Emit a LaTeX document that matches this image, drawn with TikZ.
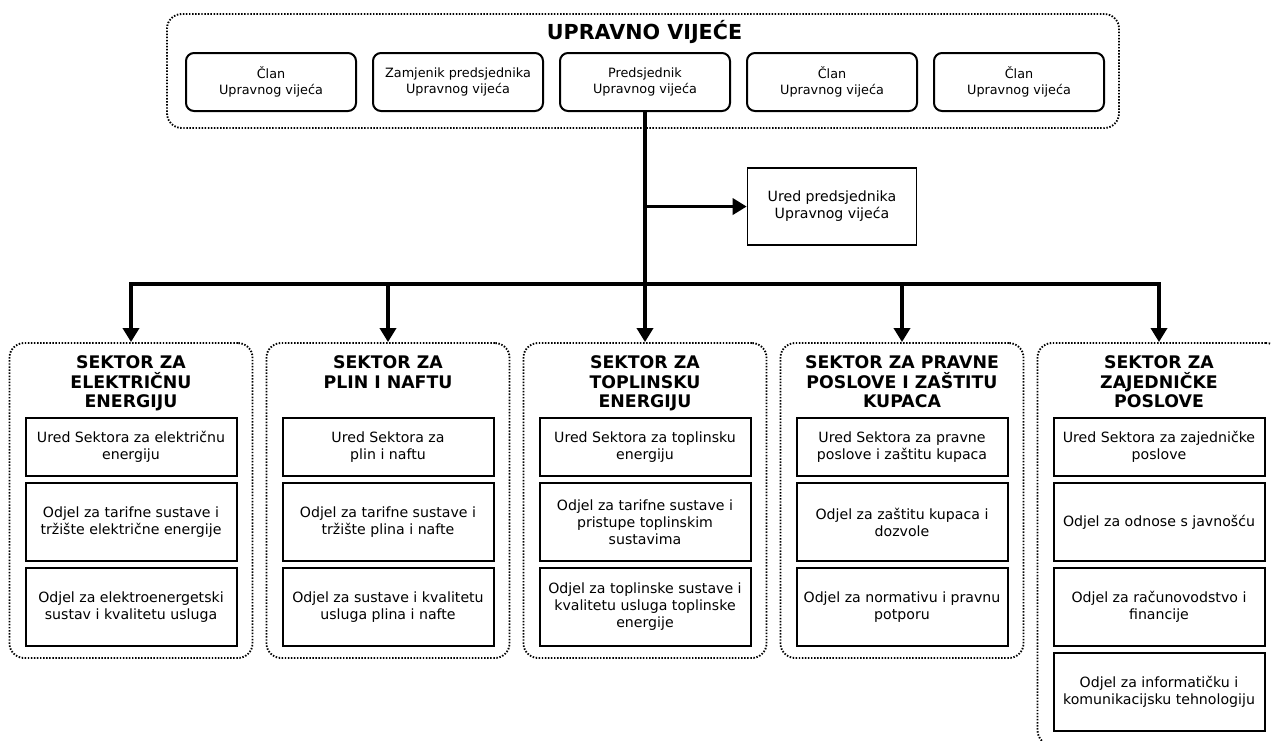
\documentclass[tikz,border=0pt]{standalone}
\usepackage{fontspec}
\setmainfont{DejaVu Sans}
\usepackage{tikz}
\usetikzlibrary{shapes, arrows.meta}
\usetikzlibrary{positioning}
\tikzstyle{member} = [rectangle, rounded corners = 6, minimum width = 127.5,
  minimum height = 43.5, draw = black, line width = 1.5pt, align = center,
  inner sep = 0, font = \fontsize{9.6}{12}\selectfont]
\tikzstyle{office} = [
  rectangle,
  minimum width = 126.75, minimum height = 57.75,
  draw = black, line width = 1.2pt, align = center,
  inner sep = 0, font = \fontsize{10.6}{12.75}\selectfont
]
\tikzstyle{unit} = [
  rectangle,
  minimum width = 158.25, minimum height = 58.5,
  draw = black, line width = 1.5pt, align = center,
  inner sep = 0, font = \fontsize{10.6}{12.75}\selectfont
]
\tikzstyle{short} = [minimum height = 43.5]
\tikzstyle{group} = [rectangle, rounded corners = 11, draw = black,
  line width = 1.4pt, dash pattern = on 1.1pt off 1.2pt]
\tikzstyle{title} = [align = center, inner sep = 0,
  font = \fontsize{13}{14.75}\selectfont\bfseries]
\tikzstyle{bus} = [line width = 2.6pt]
\tikzstyle{link} = [line width = 2.6pt, -{Triangle[width = 12pt, length = 10.5pt]}]

\begin{document}
\begin{tikzpicture}[node distance = 0, x = 0.75pt, y = -0.75pt]
      \useasboundingbox (0, 0) rectangle (1271, 740);
      % board
      \node [group, minimum width = 714, minimum height = 85.5] (board) at (643, 71) {};
      \node [title, font = \fontsize{15.5}{18}\selectfont\bfseries] (board-title) at (644.5, 32) {UPRAVNO VIJEĆE};
      \node [member] (member-1) at (271, 82) {Član\\Upravnog vijeća};
      \node [member, right of = member-1, xshift = 140.25] (member-2) {Zamjenik predsjednika\\Upravnog vijeća};
      \node [member, right of = member-2, xshift = 140.25] (member-3) {Predsjednik\\Upravnog vijeća};
      \node [member, right of = member-3, xshift = 140.25] (member-4) {Član\\Upravnog vijeća};
      \node [member, right of = member-4, xshift = 140.25] (member-5) {Član\\Upravnog vijeća};
      \node [office, below of = member-4, yshift = -93.4] (office) {Ured predsjednika\\Upravnog vijeća};

      % sector 1
      \node [group, minimum width = 182.25, minimum height = 236.25] (sector-1) at (131, 500.5) {};
      \node [title, anchor = north, yshift = -10] (title-1) at (sector-1.north) {SEKTOR ZA\\ELEKTRIČNU\\ENERGIJU};
      \node [unit, short, yshift = -78.75] (unit-1-a) at (sector-1.north) {Ured Sektora za električnu\\energiju};
      \node [unit, below of = unit-1-a, yshift = -56.25] (unit-1-b) {Odjel za tarifne sustave i\\tržište električne energije};
      \node [unit, below of = unit-1-b, yshift = -63.75] (unit-1-c) {Odjel za elektroenergetski\\sustav i kvalitetu usluga};
      % sector 2
      \node [group, minimum width = 182.25, minimum height = 236.25, right of = sector-1, xshift = 192.75] (sector-2) {};
      \node [title, anchor = north, yshift = -10] (title-2) at (sector-2.north) {SEKTOR ZA\\PLIN I NAFTU};
      \node [unit, short, yshift = -78.75] (unit-2-a) at (sector-2.north) {Ured Sektora za\\plin i naftu};
      \node [unit, below of = unit-2-a, yshift = -56.25] (unit-2-b) {Odjel za tarifne sustave i\\tržište plina i nafte};
      \node [unit, below of = unit-2-b, yshift = -63.75] (unit-2-c) {Odjel za sustave i kvalitetu\\usluga plina i nafte};
      % sector 3
      \node [group, minimum width = 182.25, minimum height = 236.25, right of = sector-2, xshift = 192.75] (sector-3) {};
      \node [title, anchor = north, yshift = -10] (title-3) at (sector-3.north) {SEKTOR ZA\\TOPLINSKU\\ENERGIJU};
      \node [unit, short, yshift = -78.75] (unit-3-a) at (sector-3.north) {Ured Sektora za toplinsku\\energiju};
      \node [unit, below of = unit-3-a, yshift = -56.25] (unit-3-b) {Odjel za tarifne sustave i\\pristupe toplinskim\\sustavima};
      \node [unit, below of = unit-3-b, yshift = -63.75] (unit-3-c) {Odjel za toplinske sustave i\\kvalitetu usluga toplinske\\energije};
      % sector 4
      \node [group, minimum width = 182.25, minimum height = 236.25, right of = sector-3, xshift = 192.75] (sector-4) {};
      \node [title, anchor = north, yshift = -10] (title-4) at (sector-4.north) {SEKTOR ZA PRAVNE\\POSLOVE I ZAŠTITU\\KUPACA};
      \node [unit, short, yshift = -78.75] (unit-4-a) at (sector-4.north) {Ured Sektora za pravne\\poslove i zaštitu kupaca};
      \node [unit, below of = unit-4-a, yshift = -56.25] (unit-4-b) {Odjel za zaštitu kupaca i\\dozvole};
      \node [unit, below of = unit-4-b, yshift = -63.75] (unit-4-c) {Odjel za normativu i pravnu\\potporu};
      % sector 5
      \node [group, minimum width = 182.25, minimum height = 301.5, right of = sector-4, xshift = 192.75, yshift = -32.6] (sector-5) {};
      \node [title, anchor = north, yshift = -10] (title-5) at (sector-5.north) {SEKTOR ZA\\ZAJEDNIČKE\\POSLOVE};
      \node [unit, short, yshift = -78.75] (unit-5-a) at (sector-5.north) {Ured Sektora za zajedničke\\poslove};
      \node [unit, below of = unit-5-a, yshift = -56.25] (unit-5-b) {Odjel za odnose s javnošću};
      \node [unit, below of = unit-5-b, yshift = -63.75] (unit-5-c) {Odjel za računovodstvo i\\financije};
      \node [unit, below of = unit-5-c, yshift = -63.75] (unit-5-d) {Odjel za informatičku i\\komunikacijsku tehnologiju};

      \coordinate (bus) at (member-3.south |- 0, 284);
      \coordinate (branch) at (member-3.south |- office.west);
      \draw [bus] (member-3.south) -- (bus);
      \draw [link] (branch) -- (office.west);
      \draw [link] (bus) -| (sector-1.north);
      \draw [link] (bus) -| (sector-2.north);
      \draw [link] (bus) -- (sector-3.north);
      \draw [link] (bus) -| (sector-4.north);
      \draw [link] (bus) -| (sector-5.north);
    \end{tikzpicture}
\end{document}
